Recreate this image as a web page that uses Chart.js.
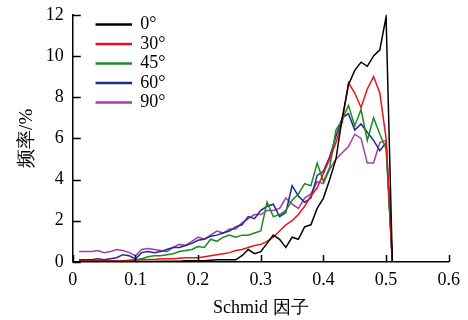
<!DOCTYPE html>
<html>
<head>
<meta charset="utf-8">
<script src="https://cdn.jsdelivr.net/npm/chart.js@4/dist/chart.umd.min.js"></script>
<style>
  body { margin: 0; background: #fff; }
  #wrap { width: 468px; height: 320px; }
</style>
</head>
<body>
<div id="wrap"><canvas id="myChart"></canvas></div>
<script>
// Schmid factor values (x)
const schmid = [0.01, 0.02, 0.03, 0.04, 0.05, 0.06, 0.07, 0.08, 0.09, 0.10,
  0.11, 0.12, 0.13, 0.14, 0.15, 0.16, 0.17, 0.18, 0.19, 0.20,
  0.21, 0.22, 0.23, 0.24, 0.25, 0.26, 0.27, 0.28, 0.29, 0.30,
  0.31, 0.32, 0.33, 0.34, 0.35, 0.36, 0.37, 0.38, 0.39, 0.40,
  0.41, 0.42, 0.43, 0.44, 0.45, 0.46, 0.47, 0.48, 0.49, 0.50, 0.51];

// frequency %, one array per angle
const deg0 = [0.02, 0.02, 0.02, 0.02, 0.02, 0.02, 0.02, 0.02, 0.02, 0.02,
  0.02, 0.02, 0.02, 0.03, 0.03, 0.03, 0.03, 0.05, 0.05, 0.05,
  0.05, 0.08, 0.1, 0.1, 0.1, 0.1, 0.3, 0.6, 0.4, 0.5,
  0.9, 1.3, 1.1, 0.7, 1.2, 1.1, 1.7, 1.8, 2.6, 3.1,
  4.0, 5.0, 7.0, 8.6, 9.3, 9.7, 9.5, 10.0, 10.3, 11.9, 0];
const deg30 = [0.05, 0.05, 0.05, 0.05, 0.05, 0.05, 0.05, 0.05, 0.08, 0.1,
  0.1, 0.12, 0.12, 0.15, 0.15, 0.15, 0.18, 0.2, 0.2, 0.2,
  0.25, 0.3, 0.35, 0.4, 0.45, 0.55, 0.6, 0.7, 0.8, 0.85,
  1.0, 1.2, 1.5, 1.8, 2.0, 2.3, 2.7, 3.2, 3.6, 4.3,
  5.0, 5.8, 6.8, 8.7, 8.2, 7.5, 8.4, 9.0, 8.2, 6.0, 0];
const deg45 = [0.05, 0.05, 0.05, 0.05, 0.05, 0.05, 0.05, 0.05, 0.05, 0.1,
  0.15, 0.25, 0.3, 0.3, 0.35, 0.4, 0.5, 0.55, 0.6, 0.75,
  0.7, 1.1, 1.0, 1.2, 1.3, 1.2, 1.3, 1.3, 1.4, 1.5,
  2.9, 2.2, 2.3, 2.5, 3.0, 3.3, 3.8, 3.7, 4.8, 3.9,
  4.6, 6.4, 6.9, 7.6, 6.6, 7.4, 5.9, 7.0, 6.2, 5.5, 0];
const deg60 = [0.1, 0.1, 0.1, 0.15, 0.1, 0.15, 0.2, 0.35, 0.3, 0.15,
  0.45, 0.5, 0.45, 0.5, 0.6, 0.7, 0.7, 0.8, 0.9, 1.05,
  1.1, 1.25, 1.3, 1.4, 1.5, 1.7, 1.8, 2.2, 2.1, 2.5,
  2.7, 2.8, 2.2, 2.4, 3.7, 3.2, 2.9, 3.1, 4.2, 4.4,
  5.1, 6.1, 7.0, 7.2, 6.4, 6.7, 6.3, 5.9, 5.4, 5.8, 0];
const deg90 = [0.5, 0.5, 0.5, 0.55, 0.45, 0.5, 0.6, 0.55, 0.45, 0.3,
  0.6, 0.65, 0.6, 0.55, 0.5, 0.7, 0.85, 0.8, 1.0, 1.2,
  1.1, 1.3, 1.5, 1.4, 1.6, 1.6, 1.9, 2.1, 2.3, 2.3,
  2.5, 2.5, 2.6, 3.1, 2.8, 2.6, 3.1, 3.3, 3.9, 3.8,
  4.5, 5.0, 5.3, 5.6, 6.2, 6.0, 4.8, 4.8, 5.8, 5.9, 0];

const seriesNames = ['0°', '30°', '45°', '60°', '90°'];
const seriesColors = ['#000000', '#e8141c', '#1b8a24', '#1e2b8c', '#a43cae'];
const seriesValues = [deg0, deg30, deg45, deg60, deg90];

const serif = "'Liberation Serif', 'DejaVu Serif', serif";

// inward tick marks on both axes
const inwardTicks = {
	id: 'inwardTicks',
	afterDatasetsDraw(chart) {
		const c = chart.ctx;
		const xs = chart.scales.x, ys = chart.scales.y;
		c.save();
		c.strokeStyle = '#000';
		c.lineWidth = 1.5;
		c.beginPath();
		ys.ticks.forEach(t => {
			const py = Math.round(ys.getPixelForValue(t.value)) + 0.5;
			c.moveTo(xs.left, py);
			c.lineTo(xs.left + 8, py);
		});
		xs.ticks.forEach(t => {
			const px = Math.round(xs.getPixelForValue(t.value)) + 0.5;
			c.moveTo(px, ys.bottom);
			c.lineTo(px, ys.bottom - 7);
		});
		c.stroke();
		c.restore();
	}
};

// move the in-plot legend away from the axis corner
const legendOffset = {
	id: 'legendOffset',
	afterLayout(chart) {
		const lg = chart.legend;
		if (!lg) return;
		lg.left += 22;
		lg.right += 22;
		lg.top += 14;
		lg.bottom += 14;
	}
};

const ctx = document.getElementById('myChart');

new Chart(ctx, {
	type: 'line',
	data: {
		datasets: seriesValues.map((vals, i) => ({
			label: seriesNames[i],
			data: schmid.map((x, j) => ({ x: x, y: vals[j] })),
			borderColor: seriesColors[i],
			backgroundColor: seriesColors[i],
			borderWidth: 1.5,
			pointRadius: 0,
			tension: 0,
		}))
	},
	options: {
		responsive: true,
		maintainAspectRatio: false,
		animation: false,
		layout: {
			padding: { left: 16, right: 15, top: 0, bottom: 2.5 }
		},
		plugins: {
			legend: {
				position: 'chartArea',
				align: 'start',
				fullSize: false,
				labels: {
					boxWidth: 35,
					boxHeight: 1,
					padding: 1.5,
					color: '#000',
					font: { family: serif, size: 18 },
				}
			},
			tooltip: { enabled: false },
		},
		scales: {
			x: {
				type: 'linear',
				min: 0,
				max: 0.6,
				ticks: {
					stepSize: 0.1,
					color: '#000',
					padding: 8,
					font: { family: serif, size: 18 },
					callback: v => v === 0 ? '0' : v.toFixed(1),
				},
				grid: { display: false, drawTicks: false },
				border: { color: '#000', width: 1.5 },
				title: {
					display: true,
					text: 'Schmid 因子',
					color: '#000',
					padding: { top: 0, bottom: 0 },
					font: { family: serif, size: 18, lineHeight: 1 },
				}
			},
			y: {
				min: 0,
				max: 12,
				afterFit: scale => { scale.paddingTop -= 5; },
				ticks: {
					stepSize: 2,
					color: '#000',
					padding: 9,
					font: { family: serif, size: 18 },
				},
				grid: { display: false, drawTicks: false },
				border: { color: '#000', width: 1.5 },
				title: {
					display: true,
					text: '频率/%',
					color: '#000',
					padding: { top: 0, bottom: -2 },
					font: { family: serif, size: 19 },
				}
			}
		}
	},
	plugins: [inwardTicks, legendOffset]
});
</script>
</body>
</html>
